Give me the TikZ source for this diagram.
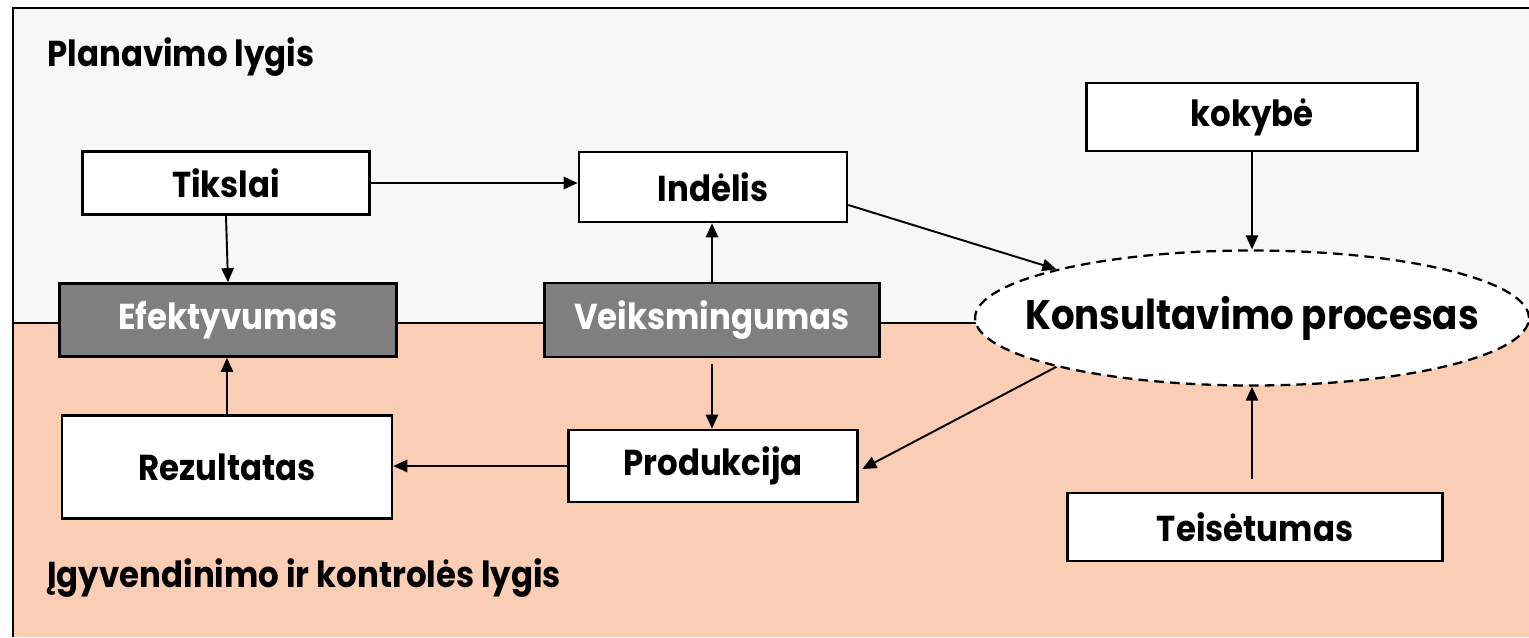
\documentclass[tikz,border=0pt]{standalone}
\usepackage{fontspec}
\setmainfont{Poppins}[FakeStretch=0.9]
\usetikzlibrary{shapes.geometric, arrows.meta, positioning, calc}

\definecolor{planbg}{HTML}{F7F7F7}
\definecolor{ctrlbg}{HTML}{FACDB5}
\definecolor{darkgray}{HTML}{7F7F7F}

\tikzset{
  box/.style={draw, line width=1.5pt, fill=white, inner sep=0pt, font=\fontsize{20.5}{23}\selectfont\bfseries},
  darkbox/.style={box, fill=darkgray, text=white},
  levellabel/.style={anchor=west, inner sep=0pt, font=\fontsize{20.5}{23}\selectfont\bfseries},
  arr/.style={-{Triangle[length=8pt,width=7pt]}, line width=1.1pt}
}

\begin{document}
\begin{tikzpicture}[x=0.02cm, y=-0.02cm]
    \useasboundingbox (0,0) rectangle (1529,637);
    % two levels
    \fill[planbg] (13,8) rectangle (1529,323);
    \fill[ctrlbg] (13,323) rectangle (1529,637);
    \draw[line width=1.6pt] (13,637) -- (13,8) -- (1529,8);
    \draw[line width=1.1pt] (13,323) -- (1529,323);
    \node[levellabel] (plan) at (47,57) {Planavimo lygis};
    \node[levellabel] (ctrl) at (47,578) {Įgyvendinimo ir kontrolės lygis};

    % planning level
    \node[box, minimum width=5.74cm, minimum height=1.26cm] (tikslai) at (226,183) {Tikslai};
    \node[box, minimum width=5.36cm, minimum height=1.40cm] (indelis) at (713,187) {Indėlis};
    \node[box, minimum width=6.62cm, minimum height=1.36cm] (kokybe) at (1252,117) {kokybė};

    % on the border
    \node[darkbox, minimum width=6.74cm, minimum height=1.46cm] (efekt) at (228,320) {Efektyvumas};
    \node[darkbox, minimum width=6.70cm, minimum height=1.48cm] (veiksm) at (712,320) {Veiksmingumas};
    \node[draw, ellipse, line width=1.3pt, dash pattern=on 5.5pt off 3.5pt, fill=white, inner sep=0pt,
          minimum width=11.08cm, minimum height=2.70cm,
          font=\fontsize{23.5}{26}\selectfont\bfseries] (kons) at (1252,318) {\makebox[0pt]{Konsultavimo procesas}};

    % control level
    \node[box, minimum width=6.60cm, minimum height=2.06cm] (rezult) at (227,467) {Rezultatas};
    \node[box, minimum width=5.78cm, minimum height=1.44cm] (produk) at (713,466) {Produkcija};
    \node[box, minimum width=7.50cm, minimum height=1.36cm] (teises) at (1255,527) {Teisėtumas};

    % connectors
    \draw[arr] (tikslai.east) -- (tikslai.east -| indelis.west);
    \draw[arr] (tikslai.south) -- (efekt.north);
    \draw[arr] (veiksm.north) -- (veiksm.north |- indelis.south);
    \draw[arr, shorten <=3pt] (veiksm.south) -- (veiksm.south |- produk.north);
    \draw[arr] (rezult.north) -- (rezult.north |- efekt.south);
    \draw[arr] (produk.west) -- (produk.west -| rezult.east);
    \draw[arr] ([yshift=-0.36cm]indelis.east) -- (kons.166);
    \draw[arr] (kons.194) -- ([xshift=2pt,yshift=-0.06cm]produk.east);
    \draw[arr] (kokybe.south) -- (kons.north);
    \draw[arr, shorten <=7pt] (teises.north -| kons.south) -- (kons.south);
\end{tikzpicture}
\end{document}
